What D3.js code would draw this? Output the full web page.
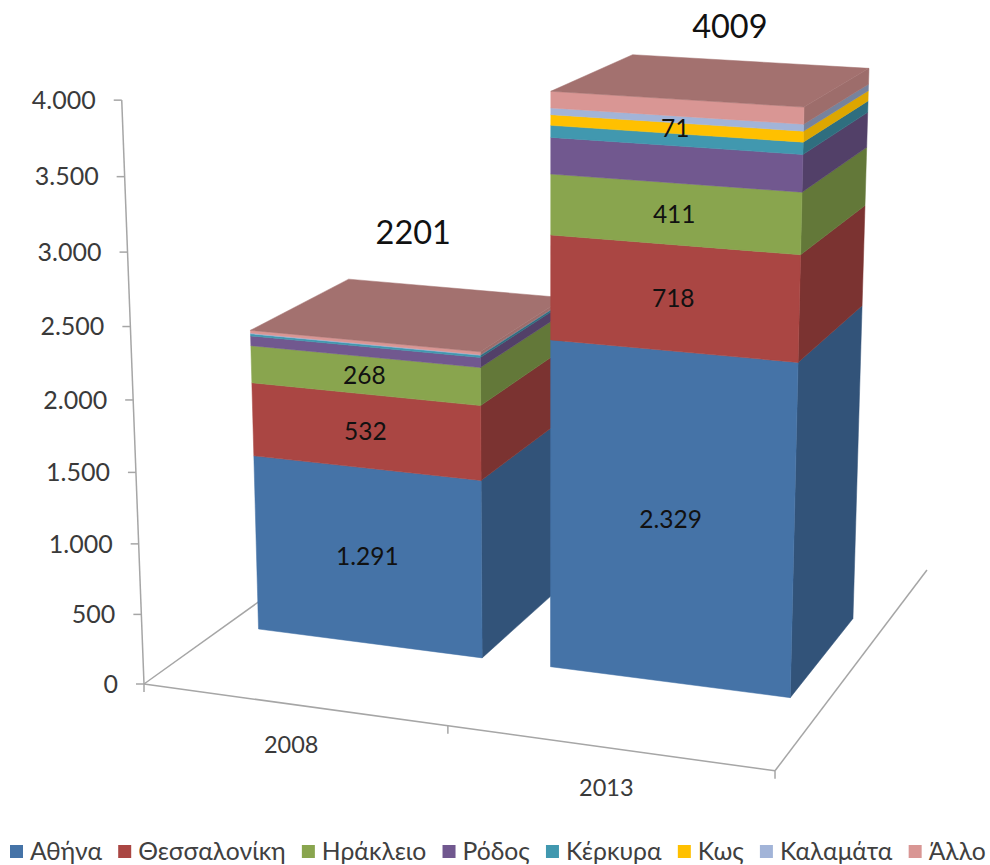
<html>
<head>
<meta charset="utf-8">
<script src="https://d3js.org/d3.v7.min.js"></script>
<style>
    body { margin: 0; background: #fff; }
    text { font-family: "Lato", "Open Sans", sans-serif; }
</style>
</head>
<body>
<svg id="chart" width="990" height="865"></svg>

<script>
    // data
    const years = ["2008", "2013"];
    const cities = ["Αθήνα", "Θεσσαλονίκη", "Ηράκλειο", "Ρόδος", "Κέρκυρα", "Κως", "Καλαμάτα", "Άλλο"];
    const values2008 = [1291, 532, 268, 70, 15, 0, 5, 20];
    const values2013 = [2329, 718, 411, 245, 80, 71, 45, 110];
    const totals = [2201, 4009];
    const printed2008 = ["Αθήνα", "Θεσσαλονίκη", "Ηράκλειο"];
    const printed2013 = ["Αθήνα", "Θεσσαλονίκη", "Ηράκλειο", "Κως"];
    const colors = ["#4573a7", "#aa4643", "#89a54e", "#71588f", "#4198af", "#ffc000", "#a2b4d8", "#d99694"];
    const yTicks = [0, 500, 1000, 1500, 2000, 2500, 3000, 3500, 4000];

    let svg = d3.select("svg#chart");
    let fmt = d3.formatLocale({decimal: ",", thousands: ".", grouping: [3], currency: ["", ""]}).format(",d");

    // the 3d scene: x and depth go 0..1 on the floor, the value axis goes up
    let xScale = d3.scaleBand().domain(years).range([0, 1]).paddingInner(0.228).paddingOuter(0.114);
    let zScale = d3.scaleLinear().domain([0, 4000]).range([0, -0.0526]);
    const depthFront = 0.3, depthBack = 0.7;

    // camera, vanishing points measured on the reference
    const origin = [144, 684];
    const vpX = [-8100, -450], vpD = [1666, -407], vpZ = [545, 11200];
    const kx = -0.0711, kd = 0.191;

    function project(x, d, value) {
        let a = kx * x, b = kd * d, c = zScale(value);
        let w = a + b + c + 1;
        return [
            (a * vpX[0] + b * vpD[0] + c * vpZ[0] + origin[0]) / w,
            (a * vpX[1] + b * vpD[1] + c * vpZ[1] + origin[1]) / w
        ];
    }

    function face(points, fill) {
        svg.append("polygon")
            .attr("points", points.map(p => p.join(",")).join(" "))
            .style("fill", fill)
            .style("stroke", fill)
            .style("stroke-width", 0.5);
    }

    function line(a, b) {
        svg.append("line")
            .attr("x1", a[0]).attr("y1", a[1])
            .attr("x2", b[0]).attr("y2", b[1])
            .style("stroke", "#a6a6a6")
            .style("stroke-width", 1.5);
    }

    //floor edges and value axis
    line(project(0, 0, 0), project(1, 0, 0));
    line(project(1, 0, 0), project(1, 1, 0));
    line(project(0, 0, 0), project(0, 1, 0));
    line(project(0, 0, 0), project(0, 0, 4000));

    //value ticks and labels
    yTicks.forEach(function(t) {
        let p = project(0, 0, t);
        line([p[0] - 8, p[1]], p);
        svg.append("text")
            .attr("x", p[0] - 26)
            .attr("y", p[1])
            .attr("dy", "0.35em")
            .attr("text-anchor", "end")
            .style("font-size", "25px")
            .style("fill", "#3a3a3a")
            .text(fmt(t));
    });

    //category ticks and labels
    [0, 0.5, 1].forEach(function(x) {
        let p = project(x, 0, 0);
        line(p, [p[0], p[1] + 8]);
    });
    years.forEach(function(y) {
        let p = project(xScale(y) + xScale.bandwidth() / 2, 0, 0);
        svg.append("text")
            .attr("x", p[0] - 2)
            .attr("y", p[1] + 40)
            .attr("dy", "0.35em")
            .attr("text-anchor", "middle")
            .style("font-size", "23.5px")
            .style("fill", "#3a3a3a")
            .text(y);
    });

    //bars, the 2013 one goes over the side of 2008
    const series = [values2008, values2013];
    const printed = [printed2008, printed2013];
    const totalOffset = [[2, -81], [16, -53]];

    years.forEach(function(y, i) {
        let x0 = xScale(y), x1 = x0 + xScale.bandwidth();
        let base = 0;
        let labels = [];

        series[i].forEach(function(v, j) {
            let top = base + v;
            if (v > 0) {
                //the yellow keeps more of its colour on the side
                face([project(x1, depthFront, base), project(x1, depthBack, base),
                      project(x1, depthBack, top), project(x1, depthFront, top)],
                     d3.rgb(colors[j]).darker(j == 5 ? 0.4 : 0.9));
                face([project(x0, depthFront, base), project(x1, depthFront, base),
                      project(x1, depthFront, top), project(x0, depthFront, top)],
                     colors[j]);
            }
            if (printed[i].includes(cities[j])) {
                labels.push([project((x0 + x1) / 2, depthFront, base + v / 2), v]);
            }
            base = top;
        });

        //lid takes the colour of the last series
        face([project(x0, depthFront, base), project(x1, depthFront, base),
              project(x1, depthBack, base), project(x0, depthBack, base)],
             d3.rgb(colors[colors.length - 1]).darker(0.8));

        labels.forEach(function(l) {
            svg.append("text")
                .attr("x", l[0][0])
                .attr("y", l[0][1])
                .attr("dy", "0.35em")
                .attr("text-anchor", "middle")
                .style("font-size", "24.5px")
                .style("fill", "#111")
                .text(fmt(l[1]));
        });

        let c = project((x0 + x1) / 2, 0.5, totals[i]);
        svg.append("text")
            .attr("x", c[0] + totalOffset[i][0])
            .attr("y", c[1] + totalOffset[i][1])
            .attr("dy", "0.35em")
            .attr("text-anchor", "middle")
            .style("font-size", "32.5px")
            .style("fill", "#111")
            .text(totals[i]);
    });

    //legend
    let legendX = 10;
    cities.forEach(function(name, i) {
        svg.append("rect")
            .attr("x", legendX)
            .attr("y", 845)
            .attr("width", 13)
            .attr("height", 13)
            .style("fill", colors[i]);
        let label = svg.append("text")
            .attr("x", legendX + 20)
            .attr("y", 851)
            .attr("dy", "0.35em")
            .style("font-size", "24.7px")
            .style("fill", "#404040")
            .text(name);
        legendX += 20 + label.node().getComputedTextLength() + 16.2;
    });
</script>
</body>
</html>
